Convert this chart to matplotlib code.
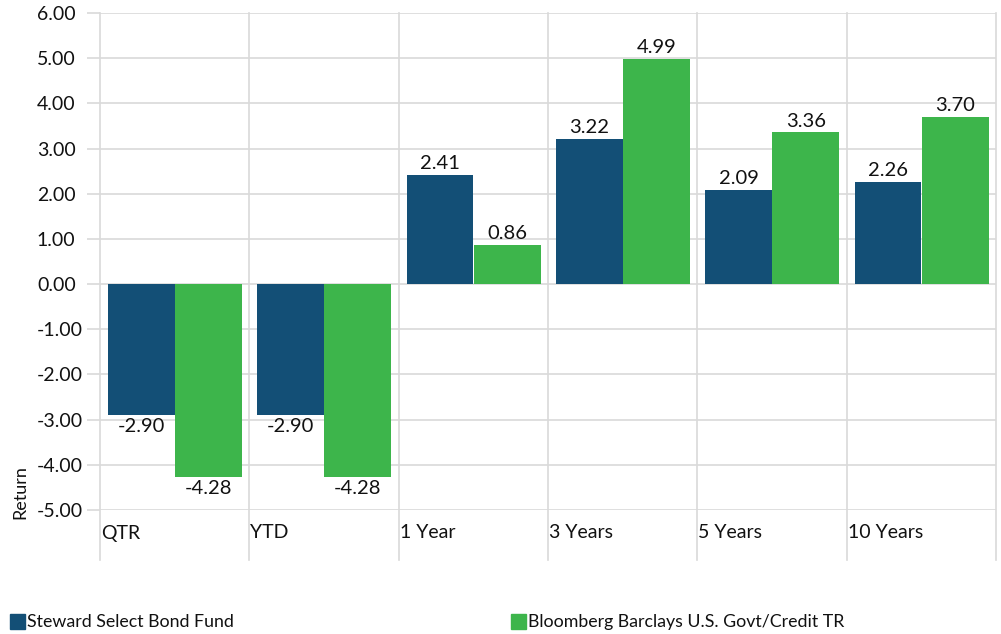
import numpy as np
import matplotlib.pyplot as plt
from matplotlib.patches import Rectangle

categories = ["QTR", "YTD", "1 Year", "3 Years", "5 Years", "10 Years"]
fund = [-2.90, -2.90, 2.41, 3.22, 2.09, 2.26]
bench = [-4.28, -4.28, 0.86, 4.99, 3.36, 3.70]
fund_name = "Steward Select Bond Fund"
bench_name = "Bloomberg Barclays U.S. Govt/Credit TR"
yticks = np.arange(-5, 7)

blue = "#134f76"
green = "#3db54b"
grid = "#d9d9d9"

plt.rcParams['font.family'] = ['Lato', 'DejaVu Sans']

W, H = 1001, 634
fig = plt.figure(figsize=(W / 100, H / 100), dpi=100)
ax = fig.add_axes([100 / W, 1 - 510 / H, 896 / W, 497 / H])

x = np.arange(len(categories))
bw = 0.447
b1 = ax.bar(x + 0.054, fund, bw, align='edge', color=blue, zorder=3)
b2 = ax.bar(x + 0.503, bench, bw, align='edge', color=green, zorder=3)

for bars, vals in [(b1, fund), (b2, bench)]:
    for rect, v in zip(bars, vals):
        cx = rect.get_x() + rect.get_width() / 2
        if v >= 0:
            ax.annotate(f"{v:.2f}", (cx, v), xytext=(0, 2), textcoords='offset points',
                        ha='center', va='bottom', fontsize=14.5, color='#111111')
        else:
            ax.annotate(f"{v:.2f}", (cx, v), xytext=(0, -2), textcoords='offset points',
                        ha='center', va='top', fontsize=14.5, color='#111111')

ax.set_xlim(0, len(categories))
ax.set_ylim(-5, 6)
ax.set_yticks(yticks)
ax.set_yticklabels([f"{v:.2f}" for v in yticks], ha='left')
ax.tick_params(axis='y', length=9.4, width=1.2, color=grid, pad=36, labelsize=14, labelcolor='#111111')
ax.set_xticks([])
for s in ax.spines.values():
    s.set_visible(False)
ax.yaxis.grid(True, color=grid, linewidth=1.2, zorder=0)

# vertical category separators extending below the plot
trans = ax.get_xaxis_transform()
for b in range(len(categories) + 1):
    ax.plot([b, b], [-50 / 497, 1], transform=trans, color=grid, linewidth=1.2,
            clip_on=False, zorder=1)

for i, c in enumerate(categories):
    ax.text(i + 0.007, -23 / 497, c, transform=trans, ha='left', va='center',
            fontsize=14, color='#111111')

fig.text(20 / W, 1 - 492 / H, "Return", rotation=90, ha='center', va='center',
         fontsize=13, color='#111111')

# legend
for lx, col, name in [(10, blue, fund_name), (511, green, bench_name)]:
    fig.patches.append(Rectangle((lx / W, 1 - 629 / H), 15 / W, 15 / H,
                                 transform=fig.transFigure, color=col, figure=fig))
    fig.text((lx + 17) / W, 1 - 622 / H, name, ha='left', va='center',
             fontsize=12.8, color='#111111')

fig.savefig("out.png", dpi=100)
